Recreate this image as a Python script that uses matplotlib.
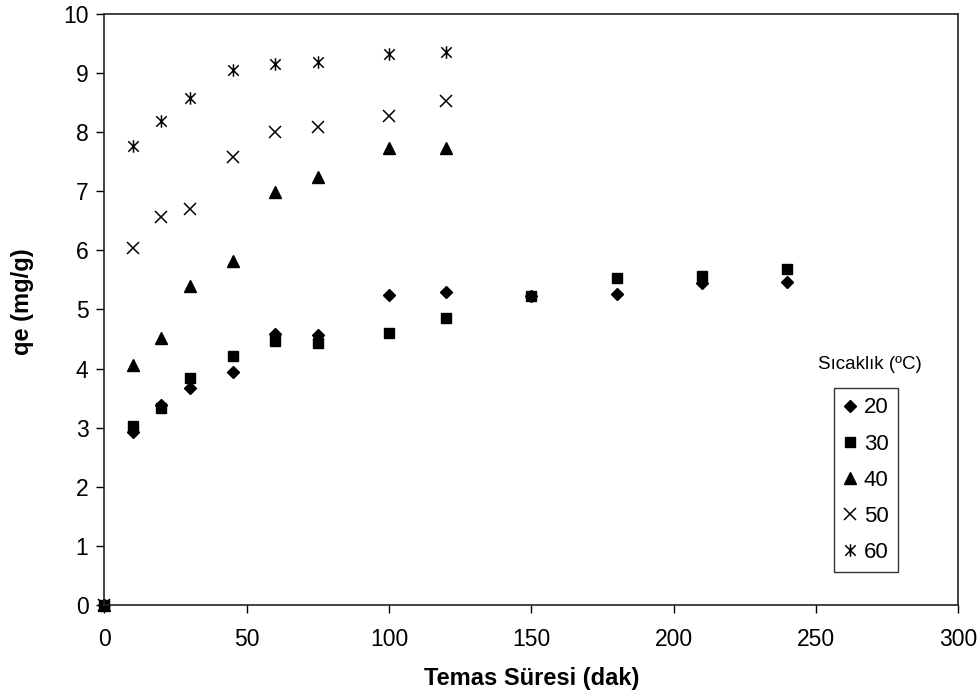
import numpy as np
import matplotlib.pyplot as plt
from matplotlib.path import Path

plt.rcParams['font.family'] = ['Liberation Sans', 'DejaVu Sans']

# contact time (min)
t_short = [0, 10, 20, 30, 45, 60, 75, 100, 120]
t_long = [0, 10, 20, 30, 45, 60, 75, 100, 120, 150, 180, 210, 240]

q20 = [0, 2.92, 3.38, 3.67, 3.95, 4.59, 4.56, 5.24, 5.30, 5.23, 5.27, 5.44, 5.46]
q30 = [0, 3.03, 3.34, 3.84, 4.21, 4.46, 4.43, 4.61, 4.86, 5.23, 5.54, 5.56, 5.69]
q40 = [0, 4.06, 4.52, 5.39, 5.82, 6.98, 7.24, 7.73, 7.73]
q50 = [0, 6.04, 6.56, 6.70, 7.58, 8.01, 8.09, 8.28, 8.53]
q60 = [0, 7.76, 8.19, 8.58, 9.05, 9.15, 9.18, 9.33, 9.36]

labels = ['20', '30', '40', '50', '60']

# excel style star: x with a vertical bar
star = Path([(-0.5, -0.5), (0.5, 0.5), (-0.5, 0.5), (0.5, -0.5), (0, -0.6), (0, 0.6)],
            [Path.MOVETO, Path.LINETO, Path.MOVETO, Path.LINETO, Path.MOVETO, Path.LINETO])

fig = plt.figure(figsize=(9.8, 6.99), dpi=100)
ax = fig.add_axes([0.1066, 0.1345, 0.871, 0.8455])

ax.plot(t_long, q20, ls='none', marker='D', ms=6.5, color='black', label=labels[0], clip_on=False)
ax.plot(t_long, q30, ls='none', marker='s', ms=7, color='black', label=labels[1], clip_on=False)
ax.plot(t_short, q40, ls='none', marker='^', ms=8.5, color='black', label=labels[2], clip_on=False)
ax.plot(t_short, q50, ls='none', marker='x', ms=8.5, mew=1.1, color='black', label=labels[3], clip_on=False)
ax.plot(t_short, q60, ls='none', marker=star, ms=9, mew=1.1, color='black', label=labels[4], clip_on=False)

ax.set_xlim(0, 300)
ax.set_ylim(0, 10)
ax.set_xticks(np.arange(0, 301, 50))
ax.set_yticks(np.arange(0, 11, 1))
ax.tick_params(direction='out', length=5.5, width=1, labelsize=16.5, colors='black')
ax.tick_params(axis='x', pad=11)
ax.tick_params(axis='y', pad=6)
for s in ax.spines.values():
    s.set_linewidth(1.2)
    s.set_color('#222222')

ax.set_xlabel('Temas Süresi (dak)', fontsize=17, fontweight='bold')
ax.set_ylabel('qe (mg/g)', fontsize=17, fontweight='bold')
ax.xaxis.set_label_coords(0.501, -0.105)
ax.yaxis.set_label_coords(-0.082, 0.513)

fig.text(0.888, 0.478, 'Sıcaklık (ºC)', fontsize=13.5, ha='center', va='center')
leg = ax.legend(loc='upper left', bbox_to_anchor=(0.855, 0.367), fontsize=16,
                frameon=True, fancybox=False, edgecolor='black', handlelength=0.6,
                handletextpad=0.3, labelspacing=0.68, borderpad=0.42, borderaxespad=0)
leg.get_frame().set_linewidth(1)

fig.savefig('out.png', dpi=100)
